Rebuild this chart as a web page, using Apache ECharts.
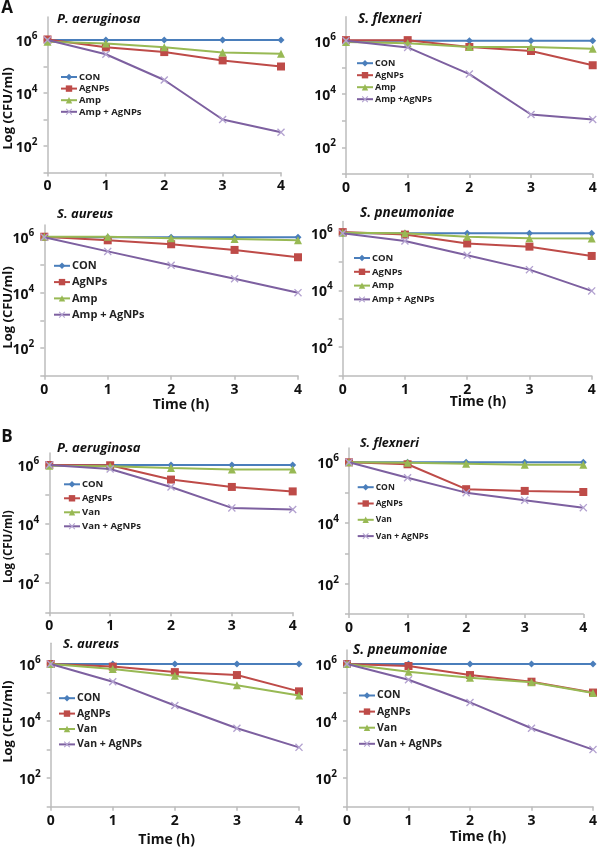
<!DOCTYPE html>
<html>
<head>
<meta charset="utf-8">
<script src="https://cdn.jsdelivr.net/npm/echarts@6/dist/echarts.min.js"></script>
<style>html,body{margin:0;padding:0;background:#fff}#c{width:600px;height:848px}</style>
</head>
<body>
<div id="c"></div>
<script>
// ---------- DATA ----------
const times = [0, 1, 2, 3, 4];
const yTickValues = [10, 100, 1000, 10000, 100000, 1000000];
const yLabelValues = [100, 10000, 1000000];

const namesAmp = ['CON', 'AgNPs', 'Amp', 'Amp + AgNPs'];
const namesAmp2 = ['CON', 'AgNPs', 'Amp', 'Amp +AgNPs'];
const namesVan = ['CON', 'AgNPs', 'Van', 'Van + AgNPs'];

// A: ampicillin
const A1_CON   = [1e6, 1e6, 1e6, 1e6, 1e6];
const A1_AgNPs = [1.05e6, 5.3e5, 3.5e5, 1.7e5, 1.0e5];
const A1_Amp   = [8.5e5, 7.3e5, 5.3e5, 3.4e5, 3.0e5];
const A1_Mix   = [1e6, 2.9e5, 3.1e4, 1.0e3, 3.3e2];

const A2_CON   = [1e6, 1e6, 1e6, 1e6, 1e6];
const A2_AgNPs = [1.05e6, 1.05e6, 5.8e5, 4.1e5, 1.2e5];
const A2_Amp   = [9e5, 8e5, 5.8e5, 5.8e5, 5e5];
const A2_Mix   = [1e6, 5.6e5, 5.6e4, 1.7e3, 1.1e3];

const A3_CON   = [1e6, 1e6, 1e6, 1e6, 1e6];
const A3_AgNPs = [1.05e6, 7.8e5, 5.6e5, 3.5e5, 1.9e5];
const A3_Amp   = [1.05e6, 1.05e6, 9.2e5, 8.7e5, 7.8e5];
const A3_Mix   = [1e6, 3.1e5, 9.8e4, 3.2e4, 1.0e4];

const A4_CON   = [1e6, 1e6, 1e6, 1e6, 1e6];
const A4_AgNPs = [1.1e6, 9e5, 4.4e5, 3.4e5, 1.6e5];
const A4_Amp   = [1.05e6, 1e6, 7.6e5, 6.7e5, 6.6e5];
const A4_Mix   = [1e6, 5.4e5, 1.7e5, 5.3e4, 9.5e3];

// B: vancomycin
const B1_CON   = [1e6, 1e6, 1e6, 1e6, 1e6];
const B1_AgNPs = [1e6, 9.8e5, 3.2e5, 1.8e5, 1.27e5];
const B1_Van   = [9.5e5, 9e5, 7.9e5, 7.1e5, 7.1e5];
const B1_Mix   = [1e6, 7.3e5, 1.8e5, 3.5e4, 3.1e4];

const B2_CON   = [1e6, 1e6, 1e6, 1e6, 1e6];
const B2_AgNPs = [1e6, 8.6e5, 1.3e5, 1.14e5, 1.05e5];
const B2_Van   = [1e6, 9.7e5, 9e5, 8.3e5, 8.3e5];
const B2_Mix   = [1e6, 3.1e5, 1.0e5, 5.6e4, 3.2e4];

const B3_CON   = [1e6, 1e6, 1e6, 1e6, 1e6];
const B3_AgNPs = [1e6, 8.1e5, 5.2e5, 4.1e5, 1.1e5];
const B3_Van   = [1e6, 6.7e5, 3.9e5, 1.8e5, 7.9e4];
const B3_Mix   = [1e6, 2.4e5, 3.5e4, 5.6e3, 1.2e3];

const B4_CON   = [1e6, 1e6, 1e6, 1e6, 1e6];
const B4_AgNPs = [1e6, 8.5e5, 4.1e5, 2.4e5, 1.0e5];
const B4_Van   = [1e6, 5.4e5, 3.3e5, 2.3e5, 9.6e4];
const B4_Mix   = [1e6, 2.8e5, 4.5e4, 5.6e3, 1.0e3];

const titles = ['P. aeruginosa', 'S. flexneri', 'S. aureus', 'S. pneumoniae',
                'P. aeruginosa', 'S. flexneri', 'S. aureus', 'S. pneumoniae'];
const seriesNames = [namesAmp, namesAmp2, namesAmp, namesAmp, namesVan, namesVan, namesVan, namesVan];
const seriesData = [
  [A1_CON, A1_AgNPs, A1_Amp, A1_Mix],
  [A2_CON, A2_AgNPs, A2_Amp, A2_Mix],
  [A3_CON, A3_AgNPs, A3_Amp, A3_Mix],
  [A4_CON, A4_AgNPs, A4_Amp, A4_Mix],
  [B1_CON, B1_AgNPs, B1_Van, B1_Mix],
  [B2_CON, B2_AgNPs, B2_Van, B2_Mix],
  [B3_CON, B3_AgNPs, B3_Van, B3_Mix],
  [B4_CON, B4_AgNPs, B4_Van, B4_Mix]
];

// ---------- LAYOUT ----------
// x0: y-axis x, x4: x of t=4, y6: y of 1e6, y1: y of 1e1, maxExp: axis top exponent
const layout = [
  {x0: 47.5, x4: 281,   y6: 40,    y1: 172.5, maxExp: 6.87, tx: 57,  ty: 21.7,  tfs: 13,   lx: 60,  ly: 76,    lg: 9.6,  lfs: 9.5},
  {x0: 346,  x4: 592.7, y6: 40.7,  y1: 174,   maxExp: 6.9,  tx: 358, ty: 21.7,  tfs: 13.5, lx: 356, ly: 62.7,  lg: 11,   lfs: 9},
  {x0: 44.3, x4: 298,   y6: 237.3, y1: 375.7, maxExp: 6.44, tx: 57,  ty: 217,   tfs: 13,   lx: 53,  ly: 264.3, lg: 13.3, lfs: 11},
  {x0: 342.7,x4: 591.7, y6: 233.3, y1: 375.7, maxExp: 6.41, tx: 360, ty: 215,   tfs: 13.5, lx: 353, ly: 257,   lg: 11.8, lfs: 9.5},
  {x0: 49.3, x4: 292.7, y6: 465,   y1: 612.3, maxExp: 6.41, tx: 57,  ty: 450.7, tfs: 13,   lx: 63,  ly: 483.3, lg: 12,   lfs: 9.5},
  {x0: 349,  x4: 583.3, y6: 462.3, y1: 614,   maxExp: 6.47, tx: 360, ty: 445,   tfs: 12.5, lx: 356.7,ly: 486.7, lg: 15.3, lfs: 8.5},
  {x0: 50.7, x4: 299,   y6: 664,   y1: 806.7, maxExp: 6.73, tx: 63,  ty: 646.7, tfs: 13,   lx: 58,  ly: 696.7, lg: 12.4, lfs: 10.5},
  {x0: 347,  x4: 595.3, y6: 664,   y1: 806.7, maxExp: 6.49, tx: 353, ty: 652,   tfs: 13.5, lx: 358, ly: 694,   lg: 13.1, lfs: 10.5}
];

const FONT = '"Open Sans", "Noto Sans", sans-serif';
const colors = ['#4a7ebb', '#be4b48', '#98b954', '#7d60a0'];
const markerColors = ['#4a7ebb', '#be4b48', '#98b954', '#b3a2d0'];
const xPath = 'path://M0,1.2L1.2,0L5,3.8L8.8,0L10,1.2L6.2,5L10,8.8L8.8,10L5,6.2L1.2,10L0,8.8L3.8,5Z';
const symbols = ['diamond', 'rect', 'triangle', xPath];
const symbolSizes = [7, 8, 8, 8];
const AXIS_COLOR = '#bcbcbc';

const grids = [], xAxes = [], yAxes = [], series = [], legends = [], titleComps = [];

layout.forEach((L, i) => {
  const dec = (L.y1 - L.y6) / 5;
  const top = L.y6 - (L.maxExp - 6) * dec;
  grids.push({left: L.x0, right: 600 - L.x4, top: top, bottom: 848 - L.y1, containLabel: false});
  xAxes.push({
    type: 'value', gridIndex: i, min: 0, max: 4, interval: 1,
    axisLine: {show: true, onZero: false, lineStyle: {color: AXIS_COLOR, width: 1.5}},
    axisTick: {show: true, length: 4, lineStyle: {color: AXIS_COLOR, width: 1.5}},
    splitLine: {show: false},
    axisLabel: {color: '#111', fontSize: 14, fontWeight: 'bold', fontFamily: FONT, margin: 7}
  });
  yAxes.push({
    type: 'log', logBase: 10, gridIndex: i, min: 10, max: Math.pow(10, L.maxExp),
    axisLine: {show: true, lineStyle: {color: AXIS_COLOR, width: 1.5}},
    axisTick: {show: true, length: 4, lineStyle: {color: AXIS_COLOR, width: 1.5}, customValues: yTickValues},
    splitLine: {show: false},
    minorTick: {show: false},
    axisLabel: {
      customValues: yLabelValues,
      margin: 10,
      formatter: v => '{b|10}{s|' + Math.round(Math.log10(v)) + '}',
      rich: {
        b: {fontSize: 14, fontWeight: 'bold', color: '#111', fontFamily: FONT, lineHeight: 18, verticalAlign: 'bottom'},
        s: {fontSize: 10, fontWeight: 'bold', color: '#111', fontFamily: FONT, lineHeight: 10, verticalAlign: 'top'}
      }
    }
  });
  titleComps.push({
    text: titles[i], left: L.tx, top: L.ty - L.tfs * 0.68, padding: 0,
    textStyle: {fontSize: L.tfs, fontStyle: 'italic', fontWeight: 'bold', color: '#111', fontFamily: FONT}
  });
  const names = seriesNames[i];
  legends.push({
    orient: 'vertical', left: L.lx, top: L.ly - 4, padding: 0,
    itemWidth: 16, itemHeight: 8, itemGap: L.lg - 8, selectedMode: false,
    textStyle: {fontSize: L.lfs, fontWeight: 'bold', color: '#222', fontFamily: FONT, lineHeight: 8, padding: [0, 0, 0, -3]},
    data: names
  });
  seriesData[i].forEach((arr, k) => {
    series.push({
      type: 'line', name: names[k], xAxisIndex: i, yAxisIndex: i,
      data: times.map((t, j) => [t, arr[j]]),
      symbol: symbols[k], symbolSize: symbolSizes[k],
      lineStyle: {color: colors[k], width: 2},
      itemStyle: {color: markerColors[k]},
      emphasis: {disabled: true},
      z: 2 + k
    });
  });
});

const txt = (text, x, y, fs, opts) => Object.assign({
  type: 'text', x: x, y: y,
  style: {text: text, fontSize: fs, fontWeight: 'bold', fill: '#111', fontFamily: FONT, align: 'center', verticalAlign: 'middle'}
}, opts || {});

const graphics = [
  txt('A', 7, 8, 17),
  txt('B', 7, 437, 17),
  txt('Log (CFU/ml)', 8.5, 108.6, 13, {rotation: Math.PI / 2}),
  txt('Log (CFU/ml)', 8, 307.5, 13, {rotation: Math.PI / 2}),
  txt('Log (CFU/ml)', 8.5, 546.7, 11.5, {rotation: Math.PI / 2}),
  txt('Log (CFU/ml)', 8, 721.7, 13, {rotation: Math.PI / 2}),
  txt('Time (h)', 181, 405.5, 14),
  txt('Time (h)', 478, 402.5, 14),
  txt('Time (h)', 166.7, 840.5, 14),
  txt('Time (h)', 478, 837, 14)
];

const chart = echarts.init(document.getElementById('c'), null, {renderer: 'canvas'});
chart.setOption({
  animation: false,
  backgroundColor: '#fff',
  title: titleComps,
  legend: legends,
  grid: grids,
  xAxis: xAxes,
  yAxis: yAxes,
  series: series,
  graphic: graphics
});
</script>
</body>
</html>
